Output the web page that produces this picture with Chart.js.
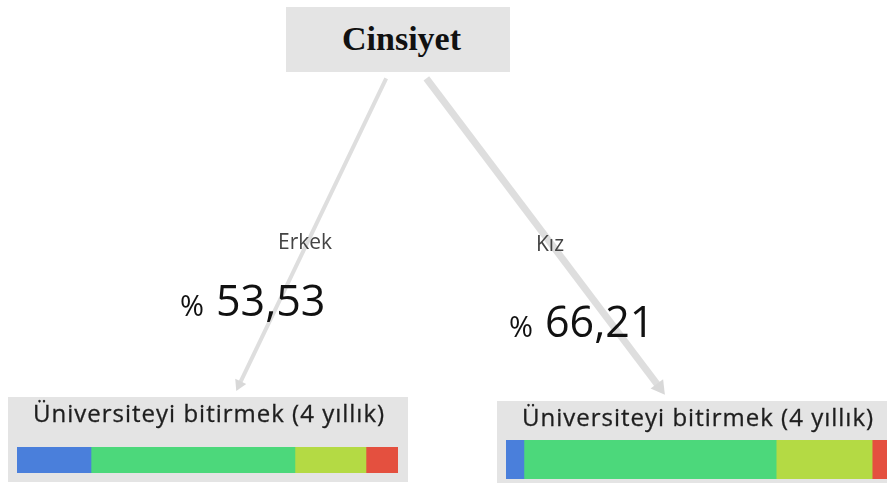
<!DOCTYPE html>
<html>
<head>
<meta charset="utf-8">
<script src="https://cdn.jsdelivr.net/npm/chart.js@4"></script>
<style>
    body { margin: 0; background: #fff; width: 887px; height: 487px; overflow: hidden; position: relative; font-family: 'Open Sans', sans-serif; }
    #edges { position: absolute; left: 0; top: 0; }
    .box { position: absolute; background: #e4e4e4; }
    .root { left: 286px; top: 7px; width: 224px; height: 65px; }
    .root span { position: absolute; left: 56px; top: 13px; font-family: 'Liberation Serif', serif; font-weight: bold; font-size: 34px; color: #111; }
    .leaf-title { position: absolute; white-space: nowrap; color: #1e1e1e; font-size: 24px; letter-spacing: 1px; -webkit-text-stroke: 0.3px #1e1e1e; }
    .bar-wrap { position: absolute; }
    .lbl { position: absolute; white-space: nowrap; color: #444; font-size: 21px; }
    .pct { position: absolute; white-space: nowrap; color: #111; }
    .pct small { font-size: 29px; margin-right: 12px; }
    .pct b { font-weight: normal; font-size: 43px; }
</style>
</head>
<body>
<canvas id="edges" width="887" height="487"></canvas>

<div class="box root"><span>Cinsiyet</span></div>

<div class="lbl" style="left:278px; top:227px;">Erkek</div>
<div class="pct" style="left:180px; top:270px;"><small>%</small><b>53,53</b></div>

<div class="lbl" style="left:536px; top:229px;">Kız</div>
<div class="pct" style="left:509px; top:291px;"><small>%</small><b>66,21</b></div>

<div class="box" style="left:8px; top:397px; width:400px; height:85px;"></div>
<div class="leaf-title" style="left:33px; top:396px;">Üniversiteyi bitirmek (4 yıllık)</div>
<div class="bar-wrap" style="left:17px; top:447px; width:381px; height:26px;"><canvas id="bar-erkek"></canvas></div>

<div class="box" style="left:497px; top:401px; width:400px; height:82px;"></div>
<div class="leaf-title" style="left:522px; top:400px;">Üniversiteyi bitirmek (4 yıllık)</div>
<div class="bar-wrap" style="left:506px; top:440px; width:381px; height:39px;"><canvas id="bar-kiz"></canvas></div>

<script>
// dağılım (%) - mavi, yeşil, sarı-yeşil, kırmızı
const segmentColors = ['#4a7fdb', '#4cd87b', '#b4da44', '#e4503f'];
const erkekValues = [19.42, 53.53, 18.64, 8.41];
const kizValues = [4.70, 66.21, 25.19, 3.90];

// dallar: kök -> yaprak (piksel)
const edgeErkek = [{x: 385, y: 72}, {x: 235, y: 390}];
const edgeKiz = [{x: 426, y: 72}, {x: 664, y: 393}];

function arrowAngle(points) {
    const dx = points[1].x - points[0].x;
    const dy = points[1].y - points[0].y;
    return Math.atan2(dx, -dy) * 180 / Math.PI;
}

function edgeDataset(points, width, head) {
    return {
        data: points,
        showLine: true,
        borderColor: '#dedede',
        borderWidth: width,
        pointStyle: 'triangle',
        pointRadius: [0, head],
        pointRotation: arrowAngle(points),
        pointBackgroundColor: '#d8d8d8',
        pointBorderWidth: 0
    };
}

new Chart(document.getElementById('edges'), {
    type: 'scatter',
    data: {
        datasets: [edgeDataset(edgeErkek, 4, 7), edgeDataset(edgeKiz, 7, 9)]
    },
    options: {
        responsive: false,
        animation: false,
        layout: { padding: 0 },
        plugins: { legend: { display: false }, tooltip: { enabled: false } },
        scales: {
            x: { type: 'linear', min: 0, max: 887, display: false },
            y: { type: 'linear', min: 0, max: 487, reverse: true, display: false }
        }
    }
});

function stackedBar(id, values) {
    new Chart(document.getElementById(id), {
        type: 'bar',
        data: {
            labels: [''],
            datasets: values.map((v, i) => ({
                data: [v],
                backgroundColor: segmentColors[i],
                borderWidth: 0,
                barPercentage: 1,
                categoryPercentage: 1
            }))
        },
        options: {
            indexAxis: 'y',
            responsive: true,
            maintainAspectRatio: false,
            animation: false,
            layout: { padding: 0 },
            plugins: { legend: { display: false }, tooltip: { enabled: false } },
            scales: {
                x: { stacked: true, min: 0, max: 100, display: false },
                y: { stacked: true, display: false }
            }
        }
    });
}

stackedBar('bar-erkek', erkekValues);
stackedBar('bar-kiz', kizValues);
</script>
</body>
</html>
